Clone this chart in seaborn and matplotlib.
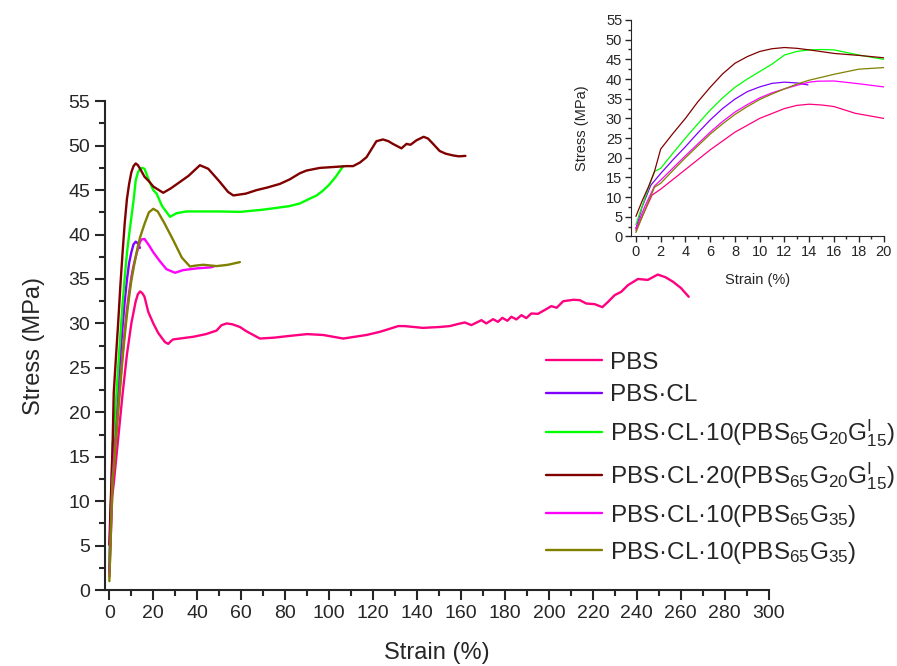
import numpy as np
import pandas as pd
import matplotlib
matplotlib.use("Agg")
import matplotlib.pyplot as plt
import seaborn as sns
from matplotlib.ticker import MultipleLocator

# --- Data (strain %, stress MPa) ---
pbs_x = [0, 1.3, 2, 4, 6, 8, 10, 12, 13, 14, 15, 16, 17.7, 20, 22.3, 25.3, 26.8, 28, 29,
         38.2, 44, 48.8, 51, 53.4, 56, 59.4, 62.5, 68.5, 75, 82.1, 90, 97.3, 106.4, 117, 123,
         127.6, 131.4, 134.4, 142.7, 150.3, 154.9, 158, 161.7, 164.7, 169.3, 171.5, 174.6,
         176.8, 178.8, 181.1, 182.9, 185.2, 187.5, 189.7, 192.0, 195.0, 198.8, 201.1, 203.5,
         206.5, 211.1, 214.0, 217.0, 220.8, 224.3, 226.9, 229.9, 232.9, 235.9, 240.5, 245,
         249.5, 253, 256.4, 260, 263.6]
pbs_y = [1.5, 10.5, 12, 17, 22, 26.5, 30, 32.5, 33.3, 33.6, 33.4, 33, 31.3, 30, 28.9, 27.9,
         27.7, 28.0, 28.2, 28.5, 28.8, 29.2, 29.8, 30.0, 29.9, 29.6, 29.1, 28.3, 28.4, 28.6,
         28.8, 28.7, 28.3, 28.7, 29.05, 29.4, 29.7, 29.7, 29.5, 29.6, 29.7, 29.9, 30.11, 29.81,
         30.37, 30.0, 30.48, 30.18, 30.63, 30.3, 30.75, 30.45, 30.93, 30.6, 31.12, 31.08,
         31.61, 31.95, 31.76, 32.5, 32.66, 32.62, 32.24, 32.17, 31.83, 32.43, 33.18, 33.56,
         34.3, 35.0, 34.9, 35.5, 35.2, 34.7, 34.0, 33.0]

cl_x = [0, 0.5, 1.2, 2, 3, 4, 5, 6, 7, 8, 9, 10, 11, 12, 13, 13.9]
cl_y = [2, 7.5, 13, 16, 19.5, 22.8, 26.3, 29.6, 32.5, 34.9, 36.8, 38.0, 38.9, 39.2, 39.0, 38.5]

g10_x = [0, 0.7, 1.5, 2, 3, 4, 5, 6, 7, 8, 9, 10, 11, 12, 13, 14, 15, 16, 18, 20, 21.5,
         24, 27.6, 30.6, 35, 40, 50, 59.4, 70, 76, 82, 86.7, 90, 94.3, 97, 100, 103, 106.4]
g10_y = [3, 9.5, 16.5, 17.3, 21.2, 25, 28.6, 32.1, 35.2, 37.9, 40.0, 41.9, 43.8, 46.1, 47.0,
         47.4, 47.5, 47.4, 46.1, 45, 44.6, 43.2, 42.0, 42.4, 42.6, 42.6, 42.6, 42.55, 42.8,
         43.0, 43.2, 43.5, 43.9, 44.4, 44.9, 45.6, 46.5, 47.7]

g20_x = [0, 0.5, 1, 1.5, 2, 3, 4, 5, 6, 7, 8, 9, 10, 11, 12, 13, 14, 16, 18, 20, 24.5, 28,
         32, 36, 41.2, 45, 50, 54, 56.4, 62, 67, 72, 77.6, 82, 86.7, 89.7, 95.8, 102, 107.9,
         110.9, 114, 117, 119, 121.5, 124.5, 127, 129, 132.9, 135.2, 137, 139.7, 143, 145,
         147.3, 150.3, 153, 156.4, 159, 162]
g20_y = [5.1, 9, 12.5, 16.5, 22.2, 26.2, 30, 34.2, 37.9, 41.3, 44, 45.7, 47, 47.7, 48, 47.8,
         47.4, 46.5, 46, 45.4, 44.7, 45.2, 45.9, 46.6, 47.8, 47.4, 46.0, 44.8, 44.4, 44.6,
         45.0, 45.3, 45.7, 46.2, 46.9, 47.2, 47.5, 47.6, 47.7, 47.7, 48.1, 48.7, 49.5, 50.5,
         50.7, 50.5, 50.2, 49.7, 50.2, 50.1, 50.6, 51.0, 50.8, 50.2, 49.4, 49.1, 48.9, 48.8,
         48.85]

g35a_x = [0, 0.7, 1.5, 2, 3, 4, 5, 6, 7, 8, 9, 10, 11, 12, 13, 14, 14.7, 16, 18, 20, 23, 26,
          29.9, 33.6, 40, 45.8, 47.5]
g35a_y = [2, 7.5, 12.8, 14.3, 17.4, 20.5, 23.5, 26.5, 29.2, 31.6, 33.5, 35.2, 36.5, 37.5,
          38.4, 39.2, 39.45, 39.5, 38.8, 38, 37.0, 36.1, 35.7, 36.0, 36.2, 36.3, 36.4]

g35b_x = [0, 0.7, 1.5, 2, 3, 4, 5, 6, 7, 8, 9, 10, 11, 12, 13, 14, 16, 18, 20, 22, 25, 29,
          33, 36.7, 39, 42.7, 48.8, 54, 59.4]
g35b_y = [1, 6.5, 12.5, 13.5, 16.8, 20, 23, 26, 28.6, 31, 33, 34.8, 36.2, 37.5, 38.7, 39.7,
          41.2, 42.5, 42.9, 42.6, 41.3, 39.4, 37.4, 36.4, 36.5, 36.6, 36.45, 36.6, 36.9]

labels = ["PBS", "PBS·CL",
          "PBS·CL·10(PBS$_{65}$G$_{20}$G$^{\\mathrm{I}}_{15}$)",
          "PBS·CL·20(PBS$_{65}$G$_{20}$G$^{\\mathrm{I}}_{15}$)",
          "PBS·CL·10(PBS$_{65}$G$_{35}$)",
          "PBS·CL·10(PBS$_{65}$G$_{35}$)"]
colors = ["#FF0080", "#8000FF", "#00FF00", "#800000", "#FF00FF", "#808000"]
series = [(pbs_x, pbs_y), (cl_x, cl_y), (g10_x, g10_y), (g20_x, g20_y),
          (g35a_x, g35a_y), (g35b_x, g35b_y)]

# --- Style ---
sns.set_style("ticks")
plt.rcParams['font.family'] = ['Liberation Sans', 'DejaVu Sans']
plt.rcParams['mathtext.fontset'] = 'custom'
plt.rcParams['mathtext.rm'] = 'Liberation Sans'
plt.rcParams['mathtext.it'] = 'Liberation Sans'
plt.rcParams['mathtext.default'] = 'regular'

fig = plt.figure(figsize=(8.97, 6.66), dpi=100)
ax = fig.add_axes([0.117, 0.114, 0.740, 0.734])
ins = fig.add_axes([0.703, 0.645, 0.282, 0.325])

for (xs, ys), lab, col in zip(series, labels, colors):
    sns.lineplot(x=xs, y=ys, ax=ax, color=col, lw=1.7, label=lab, sort=False,
                 estimator=None)
    sns.lineplot(x=xs, y=ys, ax=ins, color=col, lw=0.9, sort=False, estimator=None,
                 legend=False)

# --- Main axes ---
ax.set_xlim(-2, 300)
ax.set_ylim(0, 55)
ax.xaxis.set_major_locator(MultipleLocator(20))
ax.xaxis.set_minor_locator(MultipleLocator(10))
ax.yaxis.set_major_locator(MultipleLocator(5))
ax.yaxis.set_minor_locator(MultipleLocator(2.5))
ax.tick_params(which='major', length=7, width=1.5, labelsize=14, direction='out')
ax.tick_params(which='minor', length=4, width=1.5, direction='out')
for s in ['top', 'right']:
    ax.spines[s].set_visible(False)
for s in ['left', 'bottom']:
    ax.spines[s].set_linewidth(1.5)
ax.set_xlabel('Strain (%)', fontsize=17, labelpad=15)
ax.set_ylabel('Stress (MPa)', fontsize=17, labelpad=17)

ax.legend(loc='upper left', bbox_to_anchor=(0.665, 0.488), frameon=False, fontsize=17.5,
          handlelength=2.3, handletextpad=0.3, labelspacing=0.45, borderpad=0,
          borderaxespad=0)

# --- Inset ---
ins.set_xlim(-0.43, 20)
ins.set_ylim(0, 55)
ins.xaxis.set_major_locator(MultipleLocator(2))
ins.xaxis.set_minor_locator(MultipleLocator(1))
ins.yaxis.set_major_locator(MultipleLocator(5))
ins.yaxis.set_minor_locator(MultipleLocator(2.5))
ins.tick_params(which='major', length=4, width=1, labelsize=10.5, direction='out', pad=2)
ins.tick_params(which='minor', length=2, width=1, direction='out')
for s in ['top', 'right']:
    ins.spines[s].set_visible(False)
ins.set_xlabel('Strain (%)', fontsize=10.5, labelpad=10)
ins.set_ylabel('Stress (MPa)', fontsize=10.5, labelpad=12)

fig.savefig('out.png', dpi=100)
